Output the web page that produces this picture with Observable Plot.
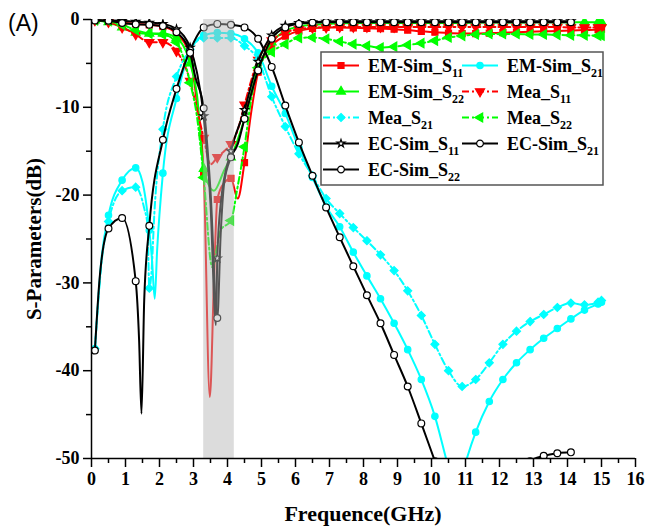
<!DOCTYPE html>
<html><head><meta charset="utf-8">
<script src="https://cdn.jsdelivr.net/npm/d3@7"></script>
<script src="https://cdn.jsdelivr.net/npm/@observablehq/plot@0.6"></script>
<style>
body{margin:0;background:#fff;}
#wrap{position:relative;width:658px;height:528px;}
</style></head><body>
<div id="wrap"></div>
<script>
// ---------- data (frequency GHz, dB) ----------
const xTicks = [0,1,2,3,4,5,6,7,8,9,10,11,12,13,14,15,16];
const xMinor = [0.5,1.5,2.5,3.5,4.5,5.5,6.5,7.5,8.5,9.5,10.5,11.5,12.5,13.5,14.5,15.5];
const yTicks = [0,-10,-20,-30,-40,-50];
const yMinor = [-5,-15,-25,-35,-45];
const band = {start: 3.3, end: 4.2};

const EM_S11 = [[0.1,-0.1],[0.5,-0.2],[0.9,-0.35],[1.3,-0.5],[1.7,-0.6],[2.1,-0.8],[2.5,-1.6],[2.9,-4.2],[3.1,-9.5],[3.3,-17.4],[3.48,-43],[3.6,-30],[3.7,-20.5],[3.9,-18.6],[4.1,-18.1],[4.3,-20.4],[4.5,-16.3],[4.7,-10.5],[4.9,-6.0],[5.3,-3.0],[5.7,-1.9],[6.1,-1.3],[6.5,-1.0],[6.9,-0.9],[7.3,-0.9],[7.7,-0.95],[8.1,-1.0],[8.5,-1.05],[8.9,-1.1],[9.3,-1.2],[9.7,-1.35],[10.1,-1.45],[10.5,-1.55],[10.9,-1.6],[11.3,-1.6],[11.7,-1.55],[12.1,-1.5],[12.5,-1.45],[12.9,-1.4],[13.3,-1.35],[13.7,-1.3],[14.1,-1.25],[14.5,-1.2],[14.9,-1.15],[15,-1.1]];
const EM_S21 = [[0.1,-37.5],[0.3,-27],[0.5,-22.3],[0.9,-18.3],[1.3,-16.9],[1.5,-18.5],[1.7,-24],[1.78,-27.4],[1.86,-31.8],[1.93,-26.3],[2.1,-17.5],[2.5,-9.0],[2.9,-3.6],[3.3,-1.8],[3.7,-1.5],[4.1,-1.6],[4.5,-2.2],[4.9,-3.8],[5.3,-7.6],[5.7,-10.7],[6.1,-14.6],[6.5,-18.0],[6.9,-21.3],[7.3,-23.6],[7.7,-26.5],[8.1,-29.2],[8.5,-31.8],[8.9,-34.6],[9.3,-37.6],[9.7,-41.0],[10.1,-45.2],[10.5,-51],[10.75,-54],[11.0,-50.5],[11.3,-47.0],[11.7,-43.5],[12.1,-41.0],[12.5,-39.1],[12.9,-37.6],[13.3,-36.3],[13.7,-35.2],[14.1,-34.1],[14.5,-33.1],[14.9,-32.4],[15,-32.2]];
const EM_S22 = [[0.1,-0.1],[0.5,-0.3],[0.9,-0.9],[1.3,-1.5],[1.7,-1.6],[2.1,-1.6],[2.5,-2.1],[2.9,-5.0],[3.1,-8.5],[3.3,-17],[3.6,-19.5],[3.9,-17.2],[4.1,-15.7],[4.5,-11.3],[4.9,-5.5],[5.3,-2.6],[5.7,-1.3],[6.1,-0.8],[6.5,-0.6],[6.9,-0.5],[7.3,-0.45],[7.7,-0.4],[8.1,-0.4],[8.5,-0.4],[8.9,-0.4],[9.3,-0.4],[9.7,-0.4],[10.1,-0.4],[10.5,-0.4],[10.9,-0.4],[11.3,-0.35],[11.7,-0.35],[12.1,-0.35],[12.5,-0.35],[12.9,-0.35],[13.3,-0.3],[13.7,-0.3],[14.1,-0.3],[14.5,-0.3],[14.9,-0.3],[15,-0.3]];
const Mea_S11 = [[0.1,-0.1],[0.5,-0.3],[0.9,-0.9],[1.3,-1.7],[1.7,-2.6],[2.1,-2.6],[2.5,-3.6],[2.9,-7.0],[3.1,-10.2],[3.3,-13.5],[3.5,-16.5],[3.7,-15.7],[3.9,-15.0],[4.1,-14.2],[4.3,-12.6],[4.5,-9.7],[4.9,-4.6],[5.3,-2.4],[5.7,-1.5],[6.1,-1.1],[6.5,-0.95],[6.9,-0.9],[7.3,-0.85],[7.7,-0.85],[8.1,-0.85],[8.5,-0.85],[8.9,-0.85],[9.3,-0.85],[9.7,-0.85],[10.1,-0.85],[10.5,-0.85],[10.9,-0.85],[11.3,-0.85],[11.7,-0.85],[12.1,-0.85],[12.5,-0.85],[12.9,-0.85],[13.3,-0.85],[13.7,-0.85],[14.1,-0.9],[14.5,-0.9],[14.9,-0.9],[15,-0.9]];
const Mea_S21 = [[0.1,-37.5],[0.3,-27.5],[0.5,-23.0],[0.9,-19.5],[1.3,-19.1],[1.55,-21.5],[1.65,-23.5],[1.7,-30.6],[1.76,-29],[1.85,-22],[2.1,-12.5],[2.5,-6.5],[2.9,-3.4],[3.3,-2.1],[3.7,-2.1],[4.1,-2.1],[4.5,-3.0],[4.9,-4.6],[5.3,-8.8],[5.7,-12.2],[6.1,-15.3],[6.5,-17.8],[6.9,-20.4],[7.3,-22.1],[7.7,-23.7],[8.1,-25.2],[8.5,-26.8],[8.9,-28.6],[9.3,-30.9],[9.7,-33.7],[10.1,-37.0],[10.5,-40.0],[10.9,-41.8],[11.3,-41.0],[11.7,-39.1],[12.1,-37.0],[12.5,-35.5],[12.9,-34.4],[13.3,-33.6],[13.7,-32.8],[14.1,-32.3],[14.5,-32.5],[14.9,-32.2],[15,-32.0]];
const Mea_S22 = [[0.1,-0.1],[0.5,-0.2],[0.9,-0.6],[1.3,-1.2],[1.7,-1.6],[2.1,-1.7],[2.5,-2.6],[2.9,-7.2],[3.1,-11],[3.3,-18],[3.55,-28.2],[3.8,-24],[4.1,-22.9],[4.3,-19],[4.5,-14.5],[4.7,-9],[4.9,-5.5],[5.3,-3.7],[5.7,-2.8],[6.1,-2.1],[6.5,-2.05],[6.9,-2.2],[7.3,-2.5],[7.7,-2.8],[8.1,-3.0],[8.5,-3.2],[8.9,-3.1],[9.3,-2.9],[9.7,-2.7],[10.1,-2.4],[10.5,-2.05],[10.9,-1.86],[11.3,-1.7],[11.7,-1.65],[12.1,-1.65],[12.5,-1.65],[12.9,-1.7],[13.3,-1.7],[13.7,-1.75],[14.1,-1.8],[14.5,-1.8],[14.9,-1.85],[15,-1.85]];
const EC_S11 = [[0.1,-0.05],[0.5,-0.1],[0.9,-0.15],[1.3,-0.25],[1.7,-0.35],[2.1,-0.5],[2.5,-1.1],[2.9,-3.2],[3.1,-6.0],[3.3,-11],[3.5,-21],[3.66,-34.8],[3.7,-27.2],[3.8,-21],[4.1,-15.0],[4.5,-10.3],[4.9,-4.8],[5.3,-1.8],[5.7,-0.7],[6.1,-0.4],[6.5,-0.3],[6.9,-0.25],[7.3,-0.2],[7.7,-0.2],[8.1,-0.2],[8.5,-0.2],[8.9,-0.2],[9.3,-0.2],[9.7,-0.2],[10.1,-0.2],[10.5,-0.2],[10.9,-0.2],[11.3,-0.2],[11.7,-0.2],[12.1,-0.2],[12.5,-0.2],[12.9,-0.2],[13.3,-0.2],[13.7,-0.2],[14.1,-0.2]];
const EC_S21 = [[0.1,-37.7],[0.25,-29],[0.5,-23.8],[0.9,-22.6],[1.3,-29.8],[1.4,-36.5],[1.47,-44.9],[1.55,-32],[1.7,-23.5],[2.1,-13.7],[2.5,-7.9],[2.9,-3.5],[3.3,-0.9],[3.7,-0.5],[4.1,-0.6],[4.5,-0.9],[4.9,-2.2],[5.3,-5.4],[5.7,-9.8],[6.1,-14.0],[6.5,-17.8],[6.9,-21.4],[7.3,-24.8],[7.7,-28.1],[8.1,-31.4],[8.5,-34.6],[8.9,-38.2],[9.3,-41.8],[9.7,-46.0],[10.1,-50.3],[10.5,-54.5],[10.9,-57],[11.3,-58],[11.7,-57.5],[12.1,-56],[12.5,-53.5],[12.9,-50.3],[13.3,-49.7],[13.7,-49.4],[14.1,-49.3]];
const EC_S22 = [[0.1,-0.1],[0.5,-0.15],[0.9,-0.4],[1.3,-0.55],[1.7,-0.6],[2.1,-0.75],[2.5,-1.45],[2.9,-3.8],[3.05,-6.5],[3.3,-10.1],[3.5,-19.5],[3.7,-34],[3.8,-24.4],[3.9,-18.7],[4.1,-15.7],[4.3,-14.2],[4.5,-11.3],[4.9,-5.8],[5.3,-2.2],[5.7,-0.9],[6.1,-0.5],[6.5,-0.35],[6.9,-0.3],[7.3,-0.3],[7.7,-0.3],[8.1,-0.3],[8.5,-0.3],[8.9,-0.3],[9.3,-0.3],[9.7,-0.3],[10.1,-0.3],[10.5,-0.3],[10.9,-0.3],[11.3,-0.3],[11.7,-0.3],[12.1,-0.3],[12.5,-0.3],[12.9,-0.3],[13.3,-0.3],[13.7,-0.3],[14.1,-0.3]];

// ---------- styles ----------
const DASH = "7,3,2,3";
const series = [
  {label:"EM-Sim_S", sub:"11", data:EM_S11, color:"#ff0000", symbol:"square", fill:"#ff0000", stroke:"#ff0000", r:3.4, rotate:0},
  {label:"EM-Sim_S", sub:"21", data:EM_S21, color:"#00ffff", symbol:"circle", fill:"#00ffff", stroke:"#00ffff", r:3.2, rotate:0},
  {label:"EM-Sim_S", sub:"22", data:EM_S22, color:"#00ff00", symbol:"triangle", fill:"#00ff00", stroke:"#00ff00", r:3.3, rotate:0},
  {label:"Mea_S", sub:"11", data:Mea_S11, color:"#ff0000", dash:DASH, symbol:"triangle", fill:"#ff0000", stroke:"#ff0000", r:3.4, rotate:180},
  {label:"Mea_S", sub:"21", data:Mea_S21, color:"#00ffff", dash:DASH, symbol:"diamond2", fill:"#00ffff", stroke:"#00ffff", r:3.6, rotate:0},
  {label:"Mea_S", sub:"22", data:Mea_S22, color:"#00ff00", dash:DASH, symbol:"triangle", fill:"#00ff00", stroke:"#00ff00", r:3.4, rotate:-90},
  {label:"EC-Sim_S", sub:"11", data:EC_S11, color:"#000000", symbol:"star", fill:"#ffffff", stroke:"#000000", r:2.5, rotate:0},
  {label:"EC-Sim_S", sub:"21", data:EC_S21, color:"#000000", symbol:"circle", fill:"#ffffff", stroke:"#000000", r:3.4, rotate:0},
  {label:"EC-Sim_S", sub:"22", data:EC_S22, color:"#000000", symbol:"circle", fill:"#ffffff", stroke:"#000000", r:3.4, rotate:0}
];
const onGrid = f => { const k = (f - 0.1) / 0.4; return Math.abs(k - Math.round(k)) < 1e-6 || f === 15; };
const SERIF = '"Liberation Serif","Times New Roman",serif';

const plot = Plot.plot({
  width: 658, height: 528,
  marginLeft: 91, marginRight: 23, marginTop: 19, marginBottom: 70,
  x: {domain: [0, 16]},
  y: {domain: [-50, 0]},
  style: {fontFamily: SERIF, fontWeight: "bold", fontSize: "18px", background: "white", color: "black"},
  marks: [
    ...series.flatMap(s => [
      Plot.line(s.data, {x: d => d[0], y: d => d[1], stroke: s.color, strokeWidth: 2, strokeDasharray: s.dash, curve: "monotone-x", clip: true}),
      Plot.dot(s.data.filter(d => onGrid(d[0])), {x: d => d[0], y: d => d[1], symbol: s.symbol, r: s.r, fill: s.fill, stroke: s.stroke, strokeWidth: 1.2, rotate: s.rotate, clip: true})
    ]),
    Plot.rect([band], {x1: "start", x2: "end", fill: "#b4b4b4", fillOpacity: 0.47}),
    Plot.axisX({ticks: xTicks, tickSize: 9, tickPadding: 5, tickFormat: d => String(d), label: null, strokeWidth: 1.5, fontSize: 18}),
    Plot.axisX({ticks: xMinor, tickSize: 5, tickFormat: () => "", label: null, strokeWidth: 1.5}),
    Plot.axisY({ticks: yTicks, tickSize: 8, tickPadding: 4, tickFormat: d => String(d), label: null, strokeWidth: 1.5, fontSize: 18}),
    Plot.axisY({ticks: yMinor, tickSize: 5, tickFormat: () => "", label: null, strokeWidth: 1.5}),
    Plot.ruleX([0], {strokeWidth: 1.5}),
    Plot.ruleY([-50], {strokeWidth: 1.5})
  ]
});

const svg = d3.select(plot);
// axis titles and panel label
svg.append("text").attr("x", 363).attr("y", 521).attr("text-anchor", "middle")
  .style("font-family", SERIF).style("font-weight", "bold").style("font-size", "22px").text("Frequence(GHz)");
svg.append("text").attr("transform", "translate(41,239) rotate(-90)").attr("text-anchor", "middle")
  .style("font-family", SERIF).style("font-weight", "bold").style("font-size", "21px").text("S-Parameters(dB)");
svg.append("text").attr("x", 8).attr("y", 31).attr("text-anchor", "start")
  .style("font-family", '"Liberation Sans",Arial,sans-serif').style("font-weight", "normal").style("font-size", "23px").text("(A)");

// legend
const lg = svg.append("g");
lg.append("rect").attr("x", 321).attr("y", 52).attr("width", 282).attr("height", 133)
  .attr("fill", "white").attr("stroke", "#555").attr("stroke-width", 1.5);
const symMap = {square: d3.symbolSquare, circle: d3.symbolCircle, triangle: d3.symbolTriangle, diamond2: d3.symbolDiamond2, star: d3.symbolStar};
const colX = [323, 462], textX = [368, 507], rowY = [65.5, 91.5, 117.5, 143.5, 169.5];
series.forEach((s, i) => {
  const c = i % 2, r = Math.floor(i / 2);
  const x0 = colX[c], y0 = rowY[r];
  lg.append("line").attr("x1", x0).attr("x2", x0 + 36).attr("y1", y0).attr("y2", y0)
    .attr("stroke", s.color).attr("stroke-width", 2).attr("stroke-dasharray", s.dash || null);
  lg.append("path").attr("d", d3.symbol(symMap[s.symbol], Math.PI * s.r * s.r)())
    .attr("transform", `translate(${x0 + 18},${y0}) rotate(${s.rotate})`)
    .attr("fill", s.fill).attr("stroke", s.stroke).attr("stroke-width", 1.2);
  const t = lg.append("text").attr("x", textX[c]).attr("y", y0 + 6).attr("text-anchor", "start")
    .style("font-family", SERIF).style("font-weight", "bold").style("font-size", "18px");
  t.append("tspan").text(s.label);
  t.append("tspan").attr("dy", 5).style("font-size", "12px").text(s.sub);
});

document.getElementById("wrap").appendChild(plot);
</script>
</body></html>
